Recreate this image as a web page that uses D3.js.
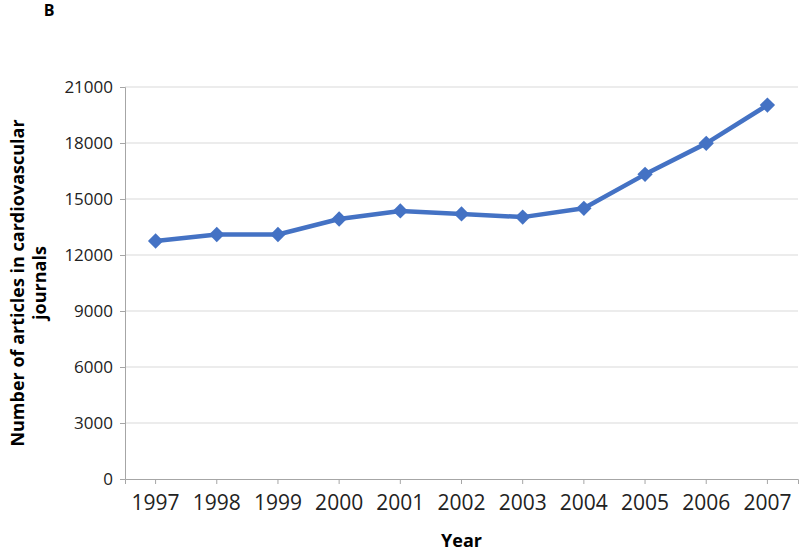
<!DOCTYPE html>
<html>
<head>
<meta charset="utf-8">
<script src="https://cdn.jsdelivr.net/npm/d3@7"></script>
<style>
  html, body { margin: 0; padding: 0; background: #fff; }
  svg { display: block; font-family: "Open Sans", sans-serif; }
</style>
</head>
<body>
<svg id="chart"></svg>
<script>
// Articles in cardiovascular journals per year
const years = ['1997', '1998', '1999', '2000', '2001', '2002', '2003', '2004', '2005', '2006', '2007'];
const articles = [12750, 13100, 13100, 13930, 14360, 14200, 14030, 14500, 16320, 17980, 20030];
const yTicks = [0, 3000, 6000, 9000, 12000, 15000, 18000, 21000];

const W = 800, H = 552;
const margin = { top: 87, right: 2, bottom: 73, left: 125 };
const iw = W - margin.left - margin.right;
const ih = H - margin.top - margin.bottom;

const svg = d3.select('#chart').attr('width', W).attr('height', H);
const g = svg.append('g').attr('transform', `translate(${margin.left},${margin.top})`);

const x = d3.scaleBand().domain(years).range([0, iw]);
const y = d3.scaleLinear().domain([0, 21000]).range([ih, 0]);
const cx = d => x(d) + x.bandwidth() / 2;

// gridlines
g.append('g')
  .selectAll('line')
  .data(yTicks.filter(t => t > 0))
  .join('line')
  .attr('x1', 0).attr('x2', iw)
  .attr('y1', d => y(d)).attr('y2', d => y(d))
  .attr('stroke', '#d9d9d9').attr('stroke-width', 1);

// y axis
const yAxis = g.append('g')
  .call(d3.axisLeft(y).tickValues(yTicks).tickSize(5).tickPadding(7).tickFormat(d3.format('d')));
yAxis.select('.domain').attr('stroke', '#a6a6a6');
yAxis.selectAll('.tick line').attr('stroke', '#a6a6a6');
yAxis.selectAll('text').attr('font-size', 17).attr('fill', '#222')
  .attr('font-family', '"Open Sans", sans-serif');

// x axis
const xAxis = g.append('g')
  .attr('transform', `translate(0,${ih})`)
  .call(d3.axisBottom(x).tickSize(5).tickPadding(11).tickSizeOuter(5));
xAxis.select('.domain').attr('stroke', '#a6a6a6');
xAxis.selectAll('.tick line').attr('stroke', '#a6a6a6');
xAxis.selectAll('text').attr('font-size', 21).attr('fill', '#222')
  .attr('font-family', '"Open Sans", sans-serif');

// line
const line = d3.line()
  .x((d, i) => cx(years[i]))
  .y(d => y(d));

g.append('path')
  .datum(articles)
  .attr('d', line)
  .attr('fill', 'none')
  .attr('stroke', '#4472c4')
  .attr('stroke-width', 4.5)
  .attr('stroke-linejoin', 'round');

// diamond markers
g.append('g')
  .selectAll('path')
  .data(articles)
  .join('path')
  .attr('d', d3.symbol().type(d3.symbolDiamond2).size(150))
  .attr('transform', (d, i) => `translate(${cx(years[i])},${y(d)})`)
  .attr('fill', '#4472c4');

// titles
svg.append('text')
  .attr('x', 49).attr('y', 16)
  .attr('text-anchor', 'middle')
  .attr('font-size', 16).attr('font-weight', 'bold')
  .text('B');

svg.append('text')
  .attr('x', margin.left + iw / 2).attr('y', 547)
  .attr('text-anchor', 'middle')
  .attr('font-size', 18).attr('font-weight', 'bold')
  .text('Year');

const yt = svg.append('text')
  .attr('transform', `translate(24,${margin.top + ih / 2}) rotate(-90)`)
  .attr('text-anchor', 'middle')
  .attr('font-size', 18).attr('font-weight', 'bold');
yt.append('tspan').attr('x', 0).attr('dy', 0).text('Number of articles in cardiovascular');
yt.append('tspan').attr('x', 0).attr('dy', 22).text('journals');
</script>
</body>
</html>
